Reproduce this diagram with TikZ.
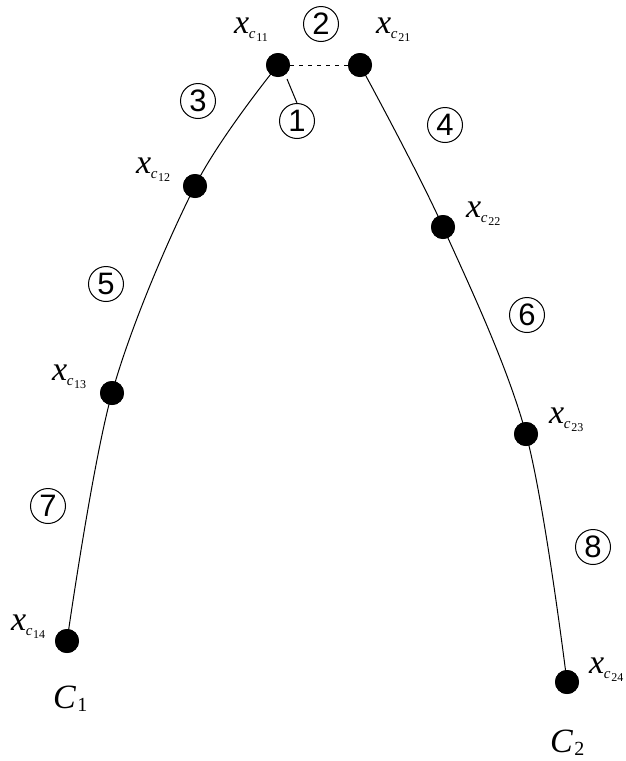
\documentclass[tikz,border=0pt]{standalone}
\usepackage{fontspec}
\setmainfont{Liberation Serif}
\newfontfamily\arialf{Liberation Sans}
\newcommand\xlab[1]{{\fontsize{34}{34}\selectfont\itshape x}\kern-0.5pt\raisebox{-5pt}{\fontsize{15}{15}\selectfont\itshape c}\kern0.8pt\raisebox{-8pt}{\fontsize{12}{12}\selectfont #1}}
\newcommand\clab[1]{{\fontsize{34}{34}\selectfont\itshape C}\kern1.5pt\raisebox{-3pt}{\fontsize{20}{20}\selectfont #1}}
\tikzset{
  dotnode/.style={circle, fill=black, minimum size=24pt, inner sep=0pt},
  circnum/.style={draw, circle, line width=1pt, minimum size=35pt, inner sep=0pt, font=\arialf\fontsize{31}{31}\selectfont},
  lbl/.style={anchor=base west, inner sep=0pt},
  curve/.style={line width=1pt},
}
\begin{document}
\begin{tikzpicture}[x=1pt,y=-1pt]
\useasboundingbox (0,0) rectangle (625,761);
% dots
\node[dotnode] (c11) at (278,65) {};
\node[dotnode] (c12) at (195,186) {};
\node[dotnode] (c13) at (112,393) {};
\node[dotnode] (c14) at (67,641) {};
\node[dotnode] (c21) at (360,65) {};
\node[dotnode] (c22) at (443,227) {};
\node[dotnode] (c23) at (526,434) {};
\node[dotnode] (c24) at (567,682) {};
% curves
\draw[curve] plot[smooth, tension=0.55] coordinates {(c11.center) (c12.center) (c13.center) (c14.center)};
\draw[curve] plot[smooth, tension=0.55] coordinates {(c21.center) (c22.center) (c23.center) (c24.center)};
% redraw dots on top
\foreach \n in {c11,c12,c13,c14,c21,c22,c23,c24} {\fill (\n.center) circle (12pt);}
% dashed link
\draw[line width=1pt, dash pattern=on 4pt off 5pt] (c11) -- (c21);
% circled numbers
\node[circnum] (n1) at (297,121) {1};
\node[circnum] (n2) at (321,24) {2};
\node[circnum] (n3) at (198,101) {3};
\node[circnum] (n4) at (445,125) {4};
\node[circnum] (n5) at (106,284) {5};
\node[circnum] (n6) at (527,315) {6};
\node[circnum] (n7) at (48,506) {7};
\node[circnum] (n8) at (593,547) {8};
\coordinate (t1) at (287,79);
\draw[line width=1pt] (t1) -- (n1.north);
% labels
\node[lbl] (l11) at (234,33) {\xlab{11}};
\node[lbl] (l21) at (376,33) {\xlab{21}};
\node[lbl] (l12) at (136,173) {\xlab{12}};
\node[lbl] (l13) at (52,380) {\xlab{13}};
\node[lbl] (l14) at (11,630) {\xlab{14}};
\node[lbl] (l22) at (466,217) {\xlab{22}};
\node[lbl] (l23) at (549,423) {\xlab{23}};
\node[lbl] (l24) at (589,673) {\xlab{24}};
\node[lbl] (C1) at (53,708) {\clab{1}};
\node[lbl] (C2) at (550,752) {\clab{2}};
\end{tikzpicture}
\end{document}
